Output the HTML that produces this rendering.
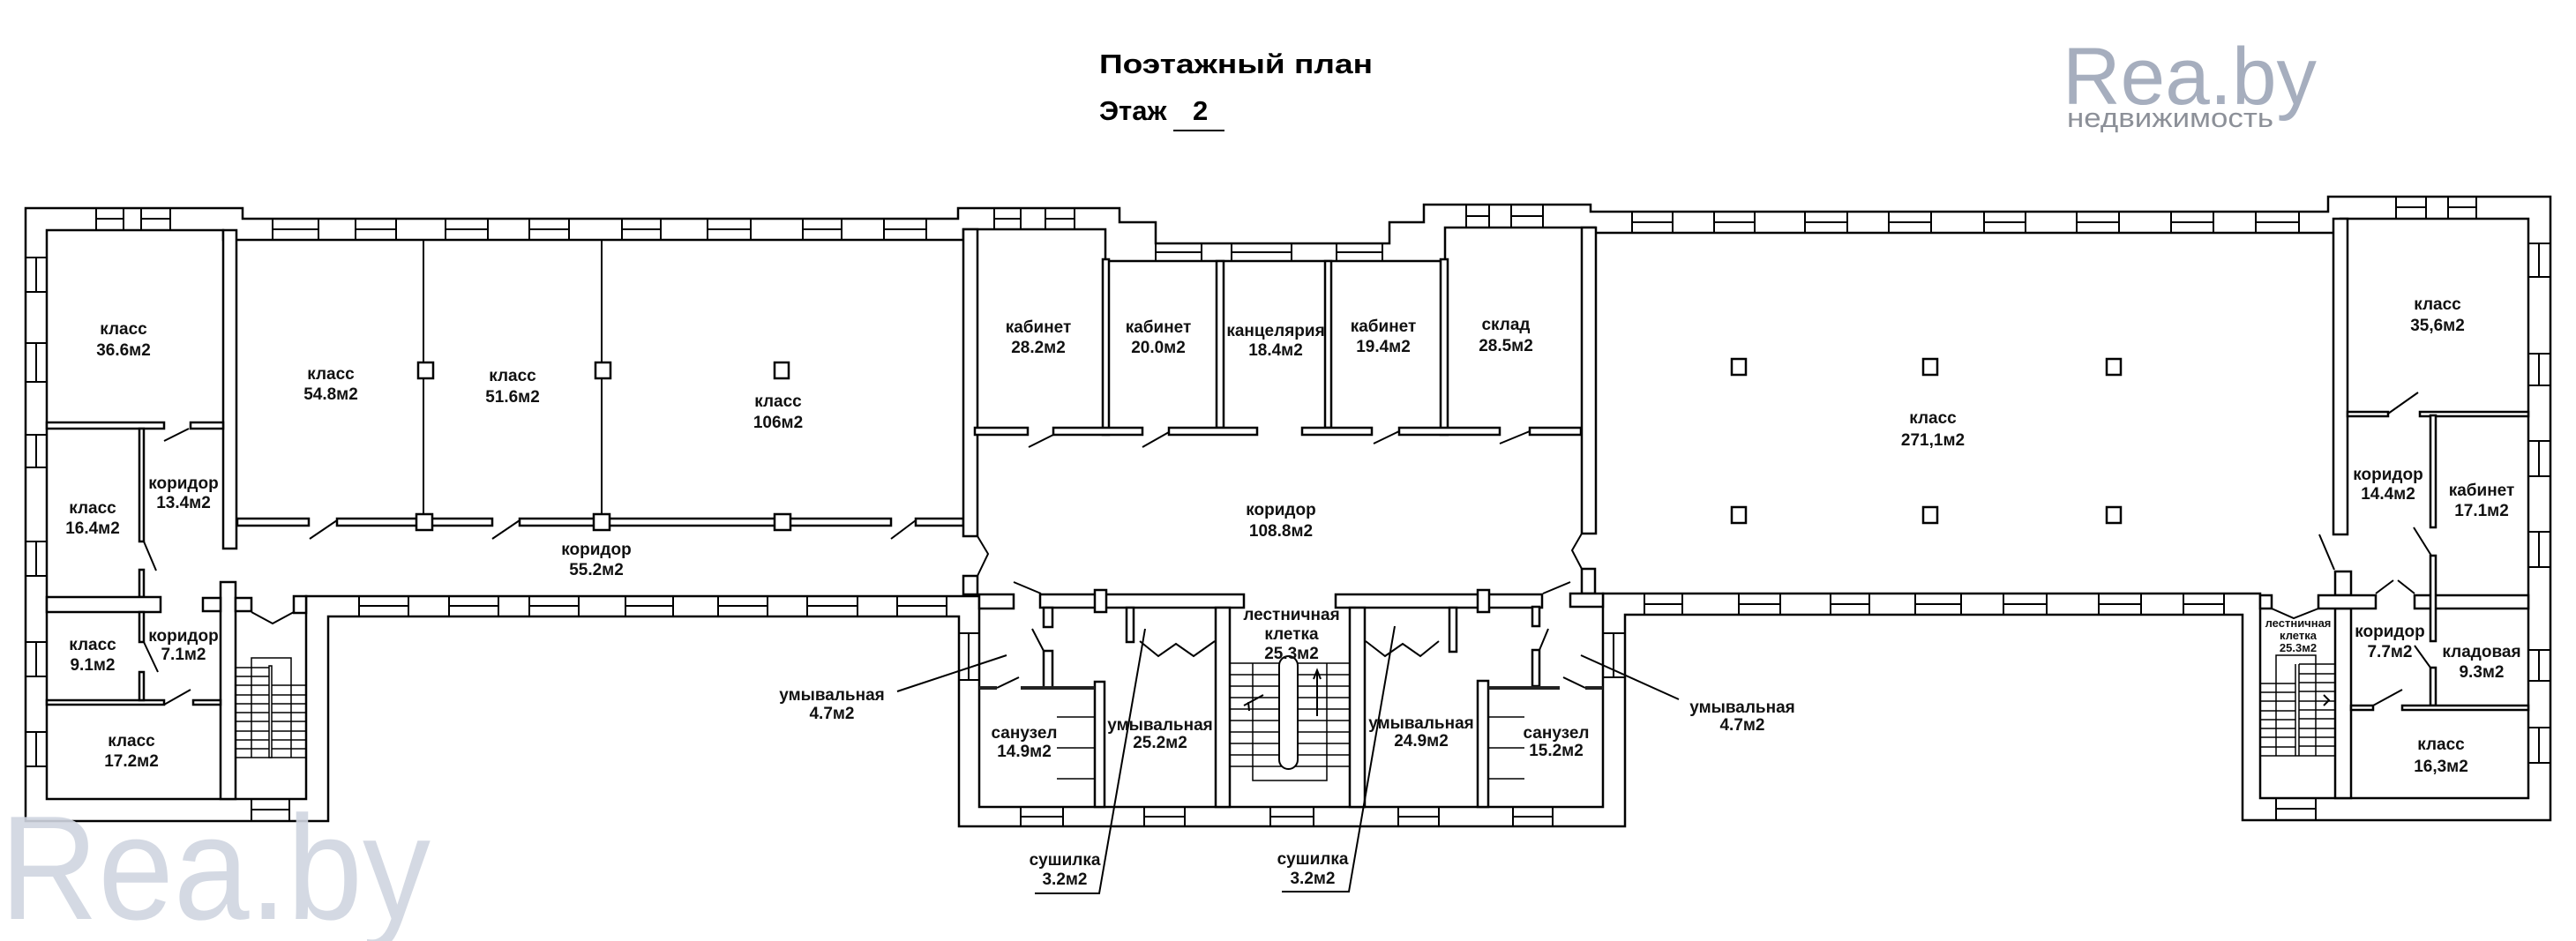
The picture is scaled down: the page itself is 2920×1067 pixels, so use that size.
<!DOCTYPE html>
<html><head><meta charset="utf-8"><style>
html,body{margin:0;padding:0;background:#fff;}
svg{display:block;}
.w{fill:#fff;stroke:#000;stroke-width:2.5;}
.l{fill:none;stroke:#000;stroke-width:2;}
.s{fill:none;stroke:#000;stroke-width:1.5;}
.t{font-family:"Liberation Sans","Noto Sans CJK SC",sans-serif;font-weight:bold;font-size:19px;fill:#111;text-anchor:middle;}
.ts{font-family:"Liberation Sans","Noto Sans CJK SC",sans-serif;font-weight:bold;font-size:13px;fill:#111;text-anchor:middle;}
</style></head><body>
<svg width="2920" height="1067" viewBox="0 0 2920 1067" xmlns="http://www.w3.org/2000/svg">
<rect width="2920" height="1067" fill="#fff"/>

<!-- outer contour -->
<polygon class="w" points="29,236 275,236 275,248 1086,248 1086,236 1269,236 1269,252 1310,252 1310,276 1575,276 1575,252 1614,252 1614,232 1803,232 1803,240 2639,240 2639,223 2891,223 2891,930 2542,930 2542,697 1842,697 1842,937 1087,937 1087,699 372,699 372,931 29,931"/>
<!-- interior -->
<polygon class="w" points="53,261 253,261 253,272 1092,272 1092,260 1253,260 1253,296 1638,296 1638,258 1808,258 1808,264 2653,264 2653,248 2866,248 2866,905 2562,905 2562,673 1817,673 1817,915 1110,915 1110,676 347,676 347,906 53,906"/>

<!-- windows -->
<path class="l" d="M109 236V261M140 236V261M109 248H140M160 236V261M193 236V261M160 248H193
M309 248V272M361 248V272M309 260H361M403 248V272M449 248V272M403 260H449M505 248V272M553 248V272M505 260H553M600 248V272M645 248V272M600 260H645M705 248V272M749 248V272M705 260H749M802 248V272M851 248V272M802 260H851M910 248V272M954 248V272M910 260H954M1002 248V272M1050 248V272M1002 260H1050
M1127 236V260M1157 236V260M1127 248H1157M1185 236V260M1218 236V260M1185 248H1218
M1310 276V296M1362 276V296M1310 286H1362M1396 276V296M1464 276V296M1396 286H1464M1515 276V296M1567 276V296M1515 286H1567
M1662 232V258M1688 232V258M1662 245H1688M1713 232V258M1749 232V258M1713 245H1749
M1850 240V264M1896 240V264M1850 252H1896M1943 240V264M1989 240V264M1943 252H1989M2046 240V264M2094 240V264M2046 252H2094M2141 240V264M2189 240V264M2141 252H2189M2249 240V264M2296 240V264M2249 252H2296M2354 240V264M2402 240V264M2354 252H2402M2461 240V264M2509 240V264M2461 252H2509M2557 240V264M2606 240V264M2557 252H2606
M2716 223V248M2750 223V248M2716 235H2750M2775 223V248M2807 223V248M2775 235H2807
M29 292H53M29 331H53M41 292V331M29 389H53M29 433H53M41 389V433M29 493H53M29 530H53M41 493V530M29 614H53M29 653H53M41 614V653M29 728H53M29 767H53M41 728V767M29 830H53M29 869H53M41 830V869
M2866 276H2891M2866 314H2891M2878 276V314M2866 401H2891M2866 437H2891M2878 401V437M2866 500H2891M2866 540H2891M2878 500V540M2866 603H2891M2866 643H2891M2878 603V643M2866 737H2891M2866 772H2891M2878 737V772M2866 825H2891M2866 865H2891M2878 825V865
M1087 718H1110M1087 771H1110M1098 718V771M1817 718H1842M1817 768H1842M1829 718V768
M285 906V931M328 906V931M285 918H328
M407 676V699M463 676V699M407 687H463M509 676V699M565 676V699M509 687H565M600 676V699M656 676V699M600 687H656M709 676V699M763 676V699M709 687H763M814 676V699M870 676V699M814 687H870M915 676V699M972 676V699M915 687H972M1017 676V699M1073 676V699M1017 687H1073
M1157 915V937M1205 915V937M1157 926H1205M1297 915V937M1343 915V937M1297 926H1343M1440 915V937M1489 915V937M1440 926H1489M1585 915V937M1631 915V937M1585 926H1631M1715 915V937M1760 915V937M1715 926H1760
M1864 673V697M1907 673V697M1864 685H1907M1971 673V697M2018 673V697M1971 685H2018M2075 673V697M2119 673V697M2075 685H2119M2171 673V697M2223 673V697M2171 685H2223M2271 673V697M2320 673V697M2271 685H2320M2379 673V697M2427 673V697M2379 685H2427M2475 673V697M2521 673V697M2475 685H2521
M2580 905V930M2625 905V930M2580 917H2625"/>

<!-- left wing partitions -->
<rect class="w" x="253" y="261" width="15" height="361"/>
<rect class="w" x="53" y="479" width="133" height="7"/>
<rect class="w" x="216" y="479" width="37" height="7"/>
<rect class="w" x="158" y="486" width="5" height="128"/>
<rect class="w" x="158" y="646" width="5" height="31"/>
<rect class="w" x="53" y="677" width="129" height="17"/>
<rect class="w" x="250" y="660" width="17" height="246"/>
<rect class="w" x="230" y="678" width="20" height="15"/>
<rect class="w" x="267" y="678" width="18" height="15"/>
<rect class="w" x="333" y="676" width="14" height="19"/>
<rect class="w" x="53" y="794" width="133" height="5"/>
<rect class="w" x="219" y="794" width="31" height="5"/>
<rect class="w" x="158" y="694" width="5" height="34"/>
<rect class="w" x="158" y="762" width="5" height="32"/>
<path class="l" d="M186 500L214 486M163 614L177 647M163 728L179 762M186 799L216 782M285 694L309 707L333 694"/>
<!-- left stair -->
<path class="s" d="M268 757H307M268 767H307M268 777H347M268 788H347M268 798H347M268 808H347M268 818H347M268 829H347M268 839H347M268 849H347M268 859H347M285 859V746H330V859"/>
<rect class="w" x="305" y="755" width="3" height="104" style="stroke-width:1.5"/>

<!-- main left classrooms -->
<path class="l" d="M480 272V588M682 272V588"/>
<rect class="w" x="269" y="588" width="81" height="8"/>
<rect class="w" x="382" y="588" width="176" height="8"/>
<rect class="w" x="589" y="588" width="421" height="8"/>
<rect class="w" x="1038" y="588" width="54" height="8"/>
<rect class="w" x="474" y="411" width="17" height="18"/>
<rect class="w" x="675" y="411" width="17" height="18"/>
<rect class="w" x="878" y="411" width="16" height="18"/>
<rect class="w" x="472" y="583" width="18" height="18"/>
<rect class="w" x="673" y="583" width="18" height="18"/>
<rect class="w" x="878" y="583" width="18" height="18"/>
<path class="l" d="M351 611L382 590M558 611L589 590M1010 611L1038 590"/>

<!-- central block -->
<rect class="w" x="1092" y="260" width="16" height="348"/>
<rect class="w" x="1092" y="653" width="16" height="21"/>
<rect class="w" x="1793" y="258" width="16" height="347"/>
<rect class="w" x="1793" y="645" width="15" height="28"/>
<rect class="w" x="1250" y="294" width="7" height="199"/>
<rect class="w" x="1379" y="296" width="8" height="189"/>
<rect class="w" x="1502" y="296" width="7" height="189"/>
<rect class="w" x="1633" y="294" width="8" height="199"/>
<rect class="w" x="1105" y="485" width="60" height="8"/>
<rect class="w" x="1194" y="485" width="101" height="8"/>
<rect class="w" x="1325" y="485" width="100" height="8"/>
<rect class="w" x="1476" y="485" width="79" height="8"/>
<rect class="w" x="1586" y="485" width="114" height="8"/>
<rect class="w" x="1734" y="485" width="58" height="8"/>
<path class="l" d="M1166 507L1194 493M1295 507L1325 490M1557 503L1586 489M1700 503L1734 489M1108 608L1120 628L1108 653M1793 605L1782 624L1793 645"/>

<!-- central lower -->
<rect class="w" x="1110" y="674" width="39" height="16"/>
<rect class="w" x="1179" y="674" width="231" height="15"/>
<rect class="w" x="1241" y="669" width="13" height="25"/>
<rect class="w" x="1514" y="674" width="234" height="15"/>
<rect class="w" x="1675" y="669" width="13" height="25"/>
<rect class="w" x="1780" y="673" width="37" height="15"/>
<rect class="w" x="1183" y="689" width="10" height="22"/>
<rect class="w" x="1183" y="738" width="10" height="42"/>
<rect class="w" x="1737" y="688" width="8" height="22"/>
<rect class="w" x="1737" y="737" width="8" height="41"/>
<rect class="w" x="1277" y="689" width="8" height="39"/>
<rect class="w" x="1643" y="689" width="8" height="50"/>
<rect class="w" x="1241" y="773" width="11" height="142"/>
<rect class="w" x="1675" y="772" width="12" height="143"/>
<rect class="w" x="1378" y="689" width="16" height="226"/>
<rect class="w" x="1530" y="689" width="17" height="226"/>
<rect x="1110" y="778" width="20" height="4" fill="#222"/>
<rect x="1157" y="778" width="84" height="4" fill="#222"/>
<rect x="1687" y="778" width="81" height="4" fill="#222"/>
<rect x="1797" y="778" width="20" height="4" fill="#222"/>
<path class="l" d="M1149 660L1180 673M1749 673L1780 660M1170 713L1183 738M1745 737L1755 713M1130 780L1155 768M1772 768L1797 780
M1292 727L1313 744L1333 730L1353 744L1377 727M1631 727L1610 744L1590 730L1570 744L1548 727"/>
<path class="s" d="M1198 813H1240M1198 848H1240M1198 883H1240M1688 813H1728M1688 848H1728M1688 883H1728"/>
<!-- central stair -->
<path class="s" d="M1394 752H1530M1394 765H1530M1394 778H1530M1394 791H1530M1394 804H1530M1394 817H1530M1394 830H1530M1394 843H1530M1394 856H1530M1394 869H1530M1420 752V885H1504V752"/>
<rect class="w" x="1450" y="744" width="21" height="128" rx="10.5" style="stroke-width:2"/>
<path class="l" d="M1493 812V762M1489 770L1493 760L1497 770M1410 800L1432 788M1415 796L1416 806"/>

<!-- big hall columns -->
<rect class="w" x="1963" y="407" width="16" height="18"/>
<rect class="w" x="2180" y="407" width="16" height="18"/>
<rect class="w" x="2388" y="407" width="16" height="18"/>
<rect class="w" x="1963" y="575" width="16" height="18"/>
<rect class="w" x="2180" y="575" width="16" height="18"/>
<rect class="w" x="2388" y="575" width="16" height="18"/>

<!-- right wing -->
<rect class="w" x="2645" y="248" width="16" height="358"/>
<rect class="w" x="2647" y="648" width="18" height="27"/>
<rect class="w" x="2647" y="690" width="18" height="215"/>
<rect class="w" x="2628" y="675" width="65" height="15"/>
<rect class="w" x="2737" y="675" width="129" height="15"/>
<rect class="w" x="2562" y="675" width="13" height="15"/>
<rect class="w" x="2661" y="467" width="46" height="5"/>
<rect class="w" x="2743" y="467" width="123" height="5"/>
<rect class="w" x="2755" y="471" width="6" height="127"/>
<rect class="w" x="2755" y="630" width="6" height="97"/>
<rect class="w" x="2755" y="757" width="6" height="43"/>
<rect class="w" x="2665" y="800" width="25" height="5"/>
<rect class="w" x="2723" y="800" width="143" height="5"/>
<path class="l" d="M2629 606L2646 646M2707 469L2741 445M2736 598L2756 630M2737 732L2755 757M2690 800L2723 782M2693 673L2713 658M2718 658L2737 673M2575 690L2600 701L2628 690"/>
<!-- right stair -->
<path class="s" d="M2562 775H2602M2562 785H2602M2562 795H2602M2562 806H2602M2562 816H2602M2562 826H2602M2562 836H2602M2562 847H2602M2562 857H2647M2606 753H2647M2606 764H2647M2606 774H2647M2606 784H2647M2606 795H2647M2606 805H2647M2606 815H2647M2606 826H2647M2606 836H2647M2606 846H2647M2580 857V743H2625V857M2602 753V857M2606 753V857"/>
<path class="l" d="M2634 788L2640 794L2634 800"/>

<!-- leaders -->
<path class="l" d="M1017 784L1141 743M1792 743L1903 793M1173 1013H1246L1298 713M1453 1011H1529L1581 710"/>

<!-- labels -->
<g class="t">
<text x="140" y="379">класс</text><text x="140" y="403">36.6м2</text>
<text x="208" y="554">коридор</text><text x="208" y="576">13.4м2</text>
<text x="105" y="582">класс</text><text x="105" y="605">16.4м2</text>
<text x="105" y="737">класс</text><text x="105" y="760">9.1м2</text>
<text x="208" y="727">коридор</text><text x="208" y="748">7.1м2</text>
<text x="149" y="846">класс</text><text x="149" y="869">17.2м2</text>
<text x="375" y="430">класс</text><text x="375" y="453">54.8м2</text>
<text x="581" y="432">класс</text><text x="581" y="456">51.6м2</text>
<text x="882" y="461">класс</text><text x="882" y="485">106м2</text>
<text x="676" y="629">коридор</text><text x="676" y="652">55.2м2</text>
<text x="943" y="794">умывальная</text><text x="943" y="815">4.7м2</text>
<text x="1177" y="377">кабинет</text><text x="1177" y="400">28.2м2</text>
<text x="1313" y="377">кабинет</text><text x="1313" y="400">20.0м2</text>
<text x="1446" y="381">канцелярия</text><text x="1446" y="403">18.4м2</text>
<text x="1568" y="376">кабинет</text><text x="1568" y="399">19.4м2</text>
<text x="1707" y="374">склад</text><text x="1707" y="398">28.5м2</text>
<text x="1452" y="584">коридор</text><text x="1452" y="608">108.8м2</text>
<text x="1464" y="703">лестничная</text><text x="1464" y="725">клетка</text><text x="1464" y="747">25.3м2</text>
<text x="1161" y="837">санузел</text><text x="1161" y="858">14.9м2</text>
<text x="1315" y="828">умывальная</text><text x="1315" y="848">25.2м2</text>
<text x="1611" y="826">умывальная</text><text x="1611" y="846">24.9м2</text>
<text x="1764" y="837">санузел</text><text x="1764" y="857">15.2м2</text>
<text x="1207" y="981">сушилка</text><text x="1207" y="1003">3.2м2</text>
<text x="1488" y="980">сушилка</text><text x="1488" y="1002">3.2м2</text>
<text x="2191" y="480">класс</text><text x="2191" y="505">271,1м2</text>
<text x="2763" y="351">класс</text><text x="2763" y="375">35,6м2</text>
<text x="2707" y="544">коридор</text><text x="2707" y="566">14.4м2</text>
<text x="2813" y="562">кабинет</text><text x="2813" y="585">17.1м2</text>
<text x="1975" y="808">умывальная</text><text x="1975" y="828">4.7м2</text>
<text x="2709" y="722">коридор</text><text x="2709" y="745">7.7м2</text>
<text x="2813" y="745">кладовая</text><text x="2813" y="768">9.3м2</text>
<text x="2767" y="850">класс</text><text x="2767" y="875">16,3м2</text>
</g>
<g class="ts">
<text x="2605" y="711">лестничная</text><text x="2605" y="725">клетка</text><text x="2605" y="739">25.3м2</text>
</g>

<!-- title -->
<text x="1246" y="83" font-family="Liberation Sans, sans-serif" font-weight="bold" font-size="31" fill="#000" textLength="310" lengthAdjust="spacingAndGlyphs">Поэтажный план</text>
<text x="1246" y="136" font-family="Liberation Sans, sans-serif" font-weight="bold" font-size="31" fill="#000">Этаж</text>
<text x="1352" y="136" font-family="Liberation Sans, sans-serif" font-weight="bold" font-size="31" fill="#000">2</text>
<path d="M1330 148H1388" stroke="#000" stroke-width="2"/>

<!-- logo top-right -->
<text x="2338" y="118" font-family="Liberation Sans, sans-serif" font-size="92" fill="#a6aebe" textLength="288" lengthAdjust="spacingAndGlyphs">Rea.by</text>
<text x="2343" y="144" font-family="Liberation Sans, sans-serif" font-size="31" fill="#8c9098" textLength="234" lengthAdjust="spacingAndGlyphs">недвижимость</text>

<!-- watermark bottom-left -->
<text x="0" y="1042" font-family="Liberation Sans, sans-serif" font-size="168" fill="#cfd5e0" fill-opacity="0.9" textLength="488" lengthAdjust="spacingAndGlyphs">Rea.by</text>
</svg>
</body></html>
